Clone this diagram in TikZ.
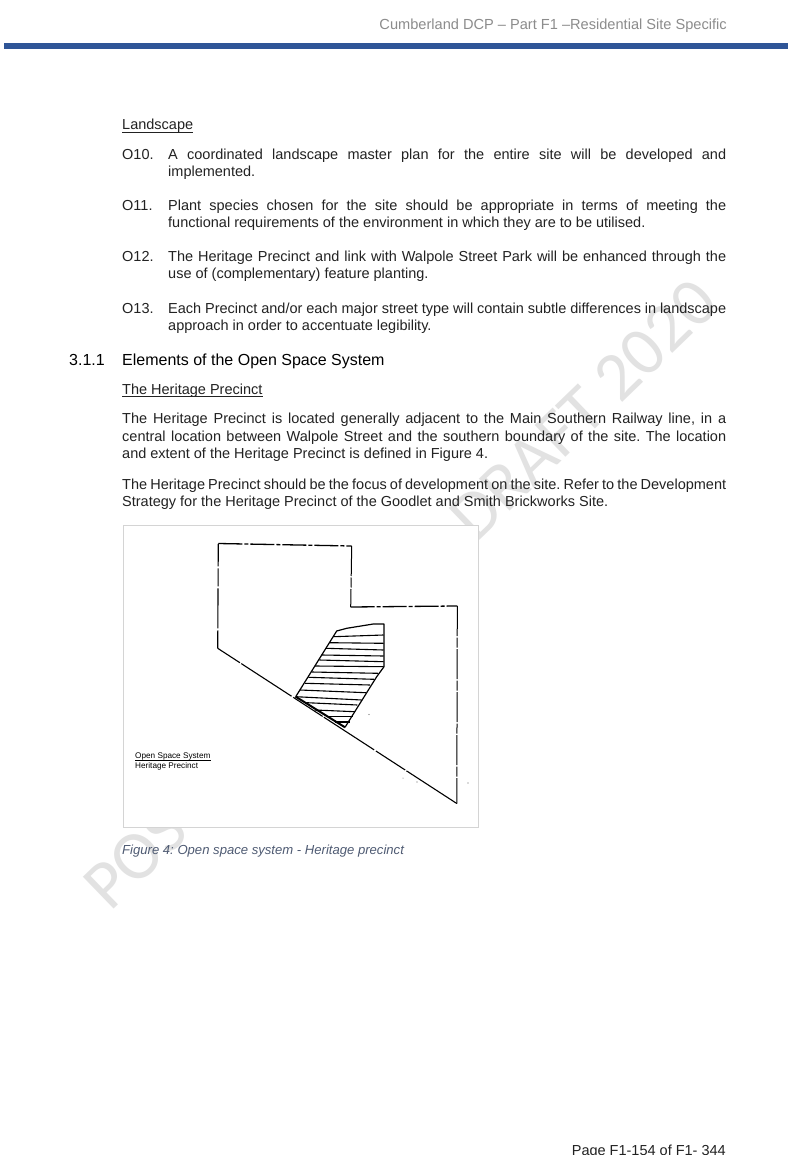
\documentclass[tikz,border=0pt]{standalone}
\usepackage{fontspec}
\setmainfont{Liberation Sans}
\newfontfamily\wmfont{Carlito}
\definecolor{bar}{HTML}{2F5597}
\definecolor{hdr}{HTML}{8C8C8C}
\definecolor{body}{HTML}{222222}
\definecolor{wm}{HTML}{E2E2E2}
\definecolor{cap}{HTML}{4F5B73}
\definecolor{box}{HTML}{D4D4D4}
\newcommand{\jline}[1]{\hbox to 604pt{#1}}
\newcommand{\kline}[1]{\hbox to 558pt{#1}}
\frenchspacing
\tikzset{
  txt/.style={anchor=base west,inner sep=0pt,font=\fontsize{14.5}{17}\selectfont,text=body},
  head/.style={anchor=base west,inner sep=0pt,font=\fontsize{16}{18}\selectfont,text=black},
  wmark/.style={inner sep=0pt,anchor=base west,rotate=44,text=wm,font=\wmfont\fontsize{69}{69}\selectfont},
  plan/.style={line width=1.1pt,black},
  brokenline/.style={line width=1.3pt,black,dash pattern=on 24pt off 2pt on 4pt off 2pt},
  gapline/.style={line width=1pt,black,dash pattern=on 30pt off 1.5pt on 10pt off 1.5pt},
  hatch/.style={line width=1.1pt,black},
  ulined/.style={line width=.8pt,body},
  leg/.style={anchor=base west,inner sep=0pt,font=\fontsize{8.2}{9}\selectfont,text=black}
}
\begin{document}
\begin{tikzpicture}[x=1pt,y=-1pt]
\useasboundingbox (0,0) rectangle (796,1155);
\fill[white] (0,0) rectangle (796,1155);
% watermark
\node[wmark] (wa) at (110,913) {POS};
\node[wmark] (wb) at (476,544) {DRAFT 2020};
% header
\node[anchor=base east,inner sep=0pt,font=\fontsize{14.6}{17}\selectfont,text=hdr] (hd) at (727,30) {Cumberland DCP – Part F1 –Residential Site Specific};
\fill[bar] (4,43.5) rectangle (788,49);
% Landscape
\node[txt] (t1) at (122,130) {Landscape};
\draw[ulined] ([yshift=-2pt]t1.base west) -- ([yshift=-2pt]t1.base east);
\node[txt] (o10) at (122,160) {O10.};
\node[txt] (o10a) at (168,160) {\kline{A coordinated landscape master plan for the entire site will be developed and}};
\node[txt] (o10b) at (168,177) {implemented.};
\node[txt] (o11) at (122,211) {O11.};
\node[txt] (o11a) at (168,211) {\kline{Plant species chosen for the site should be appropriate in terms of meeting the}};
\node[txt] (o11b) at (168,228) {functional requirements of the environment in which they are to be utilised.};
\node[txt] (o12) at (122,262) {O12.};
\node[txt] (o12a) at (168,262) {\kline{The Heritage Precinct and link with Walpole Street Park will be enhanced through the}};
\node[txt] (o12b) at (168,279) {use of (complementary) feature planting.};
\node[txt] (o13) at (122,313) {O13.};
\node[txt] (o13a) at (168,313) {\kline{Each Precinct and/or each major street type will contain subtle differences in landscape}};
\node[txt] (o13b) at (168,330) {approach in order to accentuate legibility.};
% section
\node[head] (s1) at (69,365) {3.1.1};
\node[head] (s2) at (122,365) {Elements of the Open Space System};
\node[txt] (t2) at (122,394) {The Heritage Precinct};
\draw[ulined] ([yshift=-2pt]t2.base west) -- ([yshift=-2pt]t2.base east);
\node[txt] (p1) at (122,423) {\jline{The Heritage Precinct is located generally adjacent to the Main Southern Railway line, in a}};
\node[txt] (p2) at (122,441) {\jline{central location between Walpole Street and the southern boundary of the site. The location}};
\node[txt] (p3) at (122,458) {and extent of the Heritage Precinct is defined in Figure 4.};
\node[txt] (p4) at (122,489) {\jline{The Heritage Precinct should be the focus of development on the site. Refer to the Development}};
\node[txt] (p5) at (122,506) {Strategy for the Heritage Precinct of the Goodlet and Smith Brickworks Site.};
% figure
\draw[box,fill=white,line width=1pt] (123,525) rectangle (478,827);
\coordinate (a) at (218.3,543.5);
\coordinate (b) at (351.7,546);
\coordinate (c) at (350.7,607);
\coordinate (d) at (457.3,606);
\coordinate (e) at (456.8,803.5);
\coordinate (f) at (217.7,648.3);
\draw[brokenline] (a) -- (b);
\draw[gapline] (b) -- (c);
\draw[brokenline] (c) -- (d);
\draw[gapline] (d) -- (e);
\draw[plan,dash pattern=on 60pt off 1.5pt on 35pt off 2pt] (e) -- (f);
\draw[plan,dash pattern=on 18pt off 2pt on 40pt off 2pt] (f) -- (a);
\coordinate (h1) at (295.7,696.7);
\coordinate (h2) at (336.7,631);
\coordinate (h3) at (346.7,628.3);
\coordinate (h4) at (373.3,624);
\coordinate (h5) at (384,624);
\coordinate (h6) at (384,666.7);
\coordinate (h7) at (376.7,676.7);
\coordinate (h8) at (345,727.3);
\draw[plan,line width=1.2pt,line join=round] (h1) -- (h2) -- (h3) -- (h4) -- (h5) -- (h6) -- (h7) -- (h8);
\draw[plan,line width=2pt] (h1) -- (h8);
\foreach \xa/\ya/\xb/\yb in {
 333.3/636.7/383.5/635, 330/642.7/383.5/643.3, 326/648.3/383.5/650,
 321.7/655/383.5/656, 319.3/660/383.5/661.7, 315/666/383.5/666.7,
 311.7/672/378/673.3, 308.3/677.3/374/679.3, 305/683.3/370/685,
 300/690/366/692.7, 295.7/696.7/361.7/700, 306.7/702.7/357.3/705,
 315/710/355/711.7, 326.7/716.7/352.7/716.7, 335/722/350/722}{
  \draw[hatch] (\xa,\ya) -- (\xb,\yb);
}
\fill[black!60] (417,782) circle (.7pt) (468,783) circle (.6pt) (369,714.5) circle (.6pt) (403,778) circle (.5pt);
\node[leg] (l1) at (135,758.5) {Open Space System};
\draw[line width=.6pt,black] ([yshift=-1.4pt]l1.base west) -- ([yshift=-1.4pt]l1.base east);
\node[leg] (l2) at (135,768.3) {Heritage Precinct};
\node[anchor=base west,inner sep=0pt,font=\itshape\fontsize{13.1}{16}\selectfont,text=cap] (cp) at (122,854) {Figure 4: Open space system - Heritage precinct};
\node[anchor=base east,inner sep=0pt,font=\fontsize{14.5}{17}\selectfont,text=body] (pg) at (726,1155) {Page F1-154 of F1- 344};
\end{tikzpicture}
\end{document}
